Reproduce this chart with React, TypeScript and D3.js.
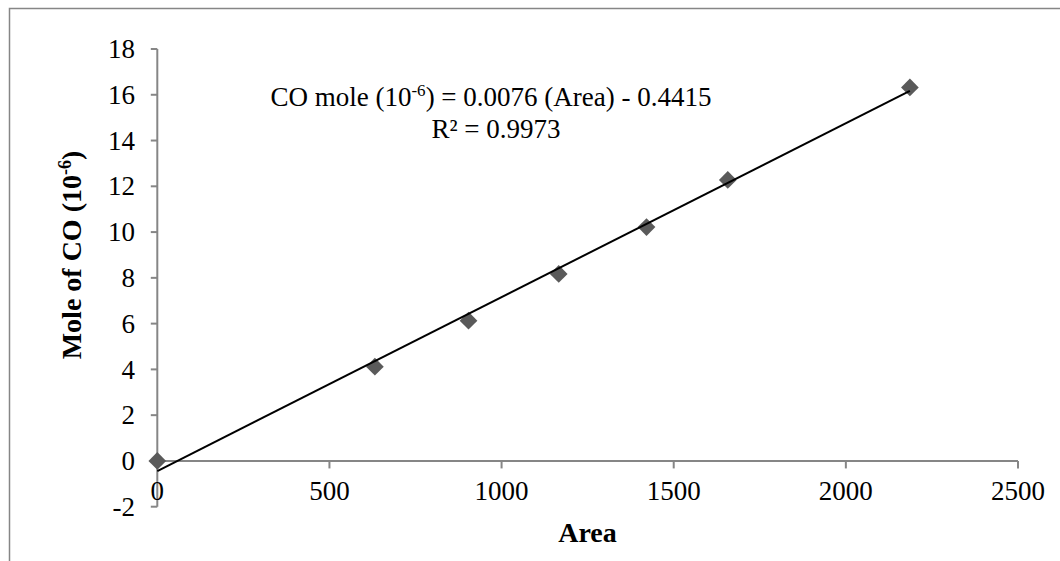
import React from "react";
import * as d3 from "d3";

const areas = [0, 632, 904, 1166, 1421, 1657, 2186];
const moles = [0, 4.12, 6.13, 8.17, 10.22, 12.28, 16.32];
const xTicks = [0, 500, 1000, 1500, 2000, 2500];
const yTicks = [-2, 0, 2, 4, 6, 8, 10, 12, 14, 16, 18];
const slope = 0.0076;
const intercept = -0.4415;

const W = 1060;
const H = 561;
const FONT = "Liberation Serif, Times New Roman, DejaVu Serif, serif";
const AXIS = "#868686";
const tStyle: React.CSSProperties = { fontFamily: FONT };

export default function App() {
  const x = d3.scaleLinear().domain([0, 2500]).range([157.3, 1018]);
  const y = d3.scaleLinear().domain([-2, 18]).range([506.7, 49]);
  const line = d3
    .line<number>()
    .x((d) => x(d))
    .y((d) => y(slope * d + intercept));
  const xEnd = d3.max(areas) as number;
  const diamond = d3.symbol().type(d3.symbolDiamond2).size(200)();
  return (
    <svg
      width={W}
      height={H}
      style={{ position: "absolute", left: 0, top: 0, background: "#fff" }}
    >
      <rect x={9.5} y={8.5} width={1100} height={600} fill="#fff" stroke={AXIS} strokeWidth={1.5} />
      {/* y axis */}
      <line x1={x(0)} x2={x(0)} y1={y(-2)} y2={y(18)} stroke={AXIS} strokeWidth={2} />
      {yTicks.map((t) => (
        <g key={"y" + t}>
          <line x1={x(0) - 6.5} x2={x(0)} y1={y(t)} y2={y(t)} stroke={AXIS} strokeWidth={2} />
          <text style={tStyle} x={135} y={y(t)} dy="0.34em" textAnchor="end" fontSize={27} fill="#000">
            {t}
          </text>
        </g>
      ))}
      {/* x axis */}
      <line x1={x(0)} x2={x(2500)} y1={y(0)} y2={y(0)} stroke={AXIS} strokeWidth={2} />
      {xTicks.map((t) => (
        <g key={"x" + t}>
          {t > 0 && (
            <line x1={x(t)} x2={x(t)} y1={y(0)} y2={y(0) + 7.5} stroke={AXIS} strokeWidth={2} />
          )}
          <text style={tStyle} x={x(t)} y={500} textAnchor="middle" fontSize={27} fill="#000">
            {t}
          </text>
        </g>
      ))}
      {/* markers */}
      {areas.map((a, i) => (
        <path
          key={"m" + i}
          d={diamond as string}
          transform={`translate(${x(a)},${y(moles[i])})`}
          fill="#5a5a5a"
        />
      ))}
      {/* trendline */}
      <path d={line([0, xEnd]) as string} stroke="#000" strokeWidth={2} fill="none" />
      {/* equation */}
      <text style={tStyle} x={491} y={106} textAnchor="middle" fontSize={27} fill="#000">
        CO mole (10
        <tspan fontSize={17} dy={-10}>-6</tspan>
        <tspan dy={10}>) = 0.0076 (Area) - 0.4415</tspan>
      </text>
      <text style={tStyle} x={496} y={138} textAnchor="middle" fontSize={27} fill="#000">
        R² = 0.9973
      </text>
      {/* axis titles */}
      <text style={tStyle} x={587.5} y={542} textAnchor="middle" fontSize={28} fontWeight="bold" fill="#000">
        Area
      </text>
      <text
        style={tStyle}
        transform={`translate(81,255) rotate(-90)`}
        textAnchor="middle"
        fontSize={28}
        fontWeight="bold"
        fill="#000"
      >
        Mole of CO (10
        <tspan fontSize={18} dy={-10}>-6</tspan>
        <tspan dy={10}>)</tspan>
      </text>
    </svg>
  );
}
